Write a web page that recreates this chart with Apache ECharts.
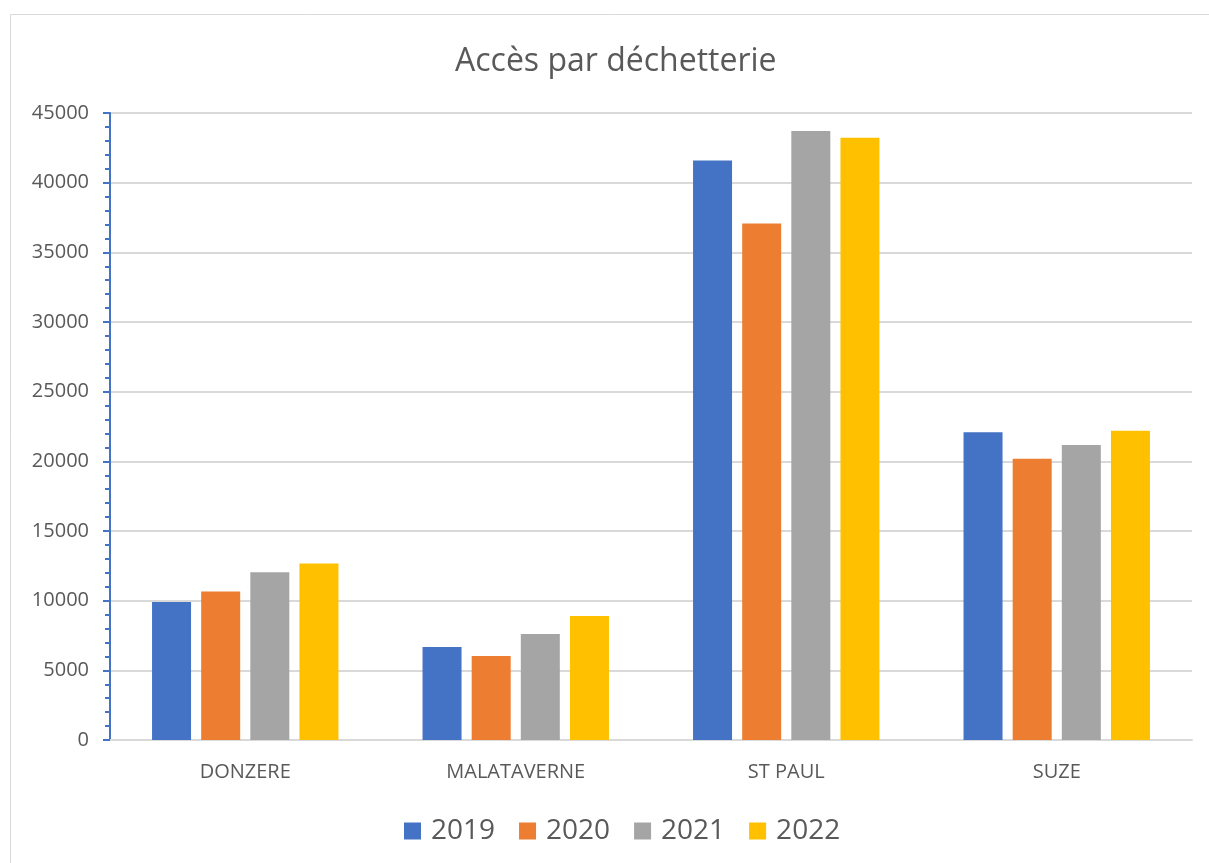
<!DOCTYPE html>
<html style="height: 100%">
    <head>
        <meta charset="utf-8">
        <script type="text/javascript" src="https://cdn.jsdelivr.net/npm/echarts@6/dist/echarts.min.js"></script>
    </head>
    <body style="height: 100%; margin: 0; background: #fff">
        <div id="main" style="width: 1209px; height: 863px"></div>
        <script type="text/javascript">
            var categories = ['DONZERE', 'MALATAVERNE', 'ST PAUL', 'SUZE'];
            var years = ['2019', '2020', '2021', '2022'];
            var colors = ['#4472C4', '#ED7D31', '#A5A5A5', '#FFC000'];
            var v2019 = [9900, 6670, 41590, 22090];
            var v2020 = [10650, 6020, 37070, 20180];
            var v2021 = [12040, 7600, 43710, 21180];
            var v2022 = [12660, 8900, 43230, 22190];
            var values = [v2019, v2020, v2021, v2022];

            var font = '"Open Sans", "Noto Sans", sans-serif';
            var series = [];
            for (let i = 0; i < years.length; i++) {
                series.push({
                    name: years[i],
                    type: 'bar',
                    data: values[i],
                    barWidth: 39,
                    barGap: '26%',
                    itemStyle: { color: colors[i] }
                });
            }

            var myChart = echarts.init(document.getElementById('main'));
            myChart.setOption({
                animation: false,
                backgroundColor: '#fff',
                color: colors,
                graphic: [{
                    type: 'rect',
                    shape: { x: 10.5, y: 14.5, width: 1230, height: 880 },
                    style: { fill: 'none', stroke: '#d9d9d9', lineWidth: 1 },
                    silent: true
                }],
                title: {
                    text: 'Accès par déchetterie',
                    left: 450,
                    top: 41,
                    textStyle: { color: '#595959', fontSize: 32, fontWeight: 'normal', fontFamily: font }
                },
                legend: {
                    top: 812,
                    left: 399,
                    itemWidth: 17,
                    itemHeight: 17,
                    itemGap: 24,
                    icon: 'rect',
                    textStyle: { color: '#595959', fontSize: 28, fontFamily: font, padding: [0, 0, 0, 5] }
                },
                grid: { left: 110, right: 17, top: 113, bottom: 123 },
                xAxis: {
                    type: 'category',
                    data: categories,
                    axisLine: { lineStyle: { color: '#d9d9d9', width: 2 } },
                    axisTick: { show: false },
                    axisLabel: { color: '#595959', fontSize: 20, margin: 22, fontFamily: font }
                },
                yAxis: {
                    type: 'value',
                    min: 0,
                    max: 45000,
                    interval: 5000,
                    axisLine: { show: true, lineStyle: { color: '#4472C4', width: 2 } },
                    axisTick: { show: true, length: 7, lineStyle: { color: '#4472C4', width: 2 } },
                    minorTick: { show: true, splitNumber: 5, length: 5, lineStyle: { color: '#4472C4', width: 2 } },
                    splitLine: { lineStyle: { color: '#d9d9d9', width: 2 } },
                    axisLabel: {
                        color: '#595959', fontSize: 20, margin: 21, fontFamily: font,
                        formatter: function (v) { return String(v); }
                    }
                },
                series: series
            });
        </script>
    </body>
</html>
